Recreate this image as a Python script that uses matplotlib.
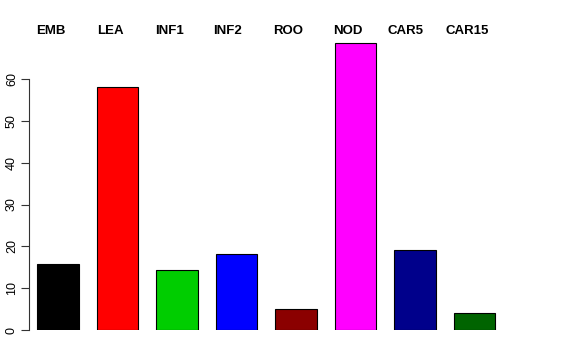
import matplotlib
matplotlib.use("Agg")
import matplotlib.pyplot as plt

# tissue labels and values
tissues = ["EMB", "LEA", "INF1", "INF2", "ROO", "NOD", "CAR5", "CAR15"]
values = [15.7, 58.1, 14.3, 18.2, 5.0, 68.6, 19.1, 4.0]
colors = ["black", "red", "#00CD00", "blue", "#8B0000", "magenta", "#00008B", "#006400"]
yticks = [0, 10, 20, 30, 40, 50, 60]

# label centres along the top, in pixels (they don't line up with the bars)
label_px = [51, 110, 169, 228, 288, 347.5, 405, 467]

W, H = 576, 360
fig = plt.figure(figsize=(W / 100, H / 100), dpi=100)
plt.rcParams["font.family"] = ["Liberation Sans", "DejaVu Sans"]

# axes placed so that y=0 sits at px 330 and the axis line at px 29
left, right = 29, 547
bottom, top = 330, 330 - 70 * 4.183
ax = fig.add_axes([left / W, 1 - bottom / H, (right - left) / W, (bottom - top) / H])

x = list(range(len(tissues)))
ax.bar(x, values, width=0.7, color=colors, edgecolor="black", linewidth=0.8)

ax.set_xlim(-0.487, 8.218)
ax.set_ylim(0, 70)
for s in ["top", "right", "bottom"]:
    ax.spines[s].set_visible(False)
ax.spines["left"].set_bounds(0, 60)
ax.spines["left"].set_color("#333333")
ax.set_xticks([])
ax.set_yticks(yticks)
ax.set_yticklabels([str(v) for v in yticks], rotation=90, va="center", fontsize=9)
ax.tick_params(axis="y", length=6, width=0.8, color="#333333", pad=2)

for name, px in zip(tissues, label_px):
    fig.text(px / W, 1 - 31 / H, name, ha="center", va="center",
             fontsize=9.5, fontweight="bold")

fig.savefig("out.png", dpi=100)
